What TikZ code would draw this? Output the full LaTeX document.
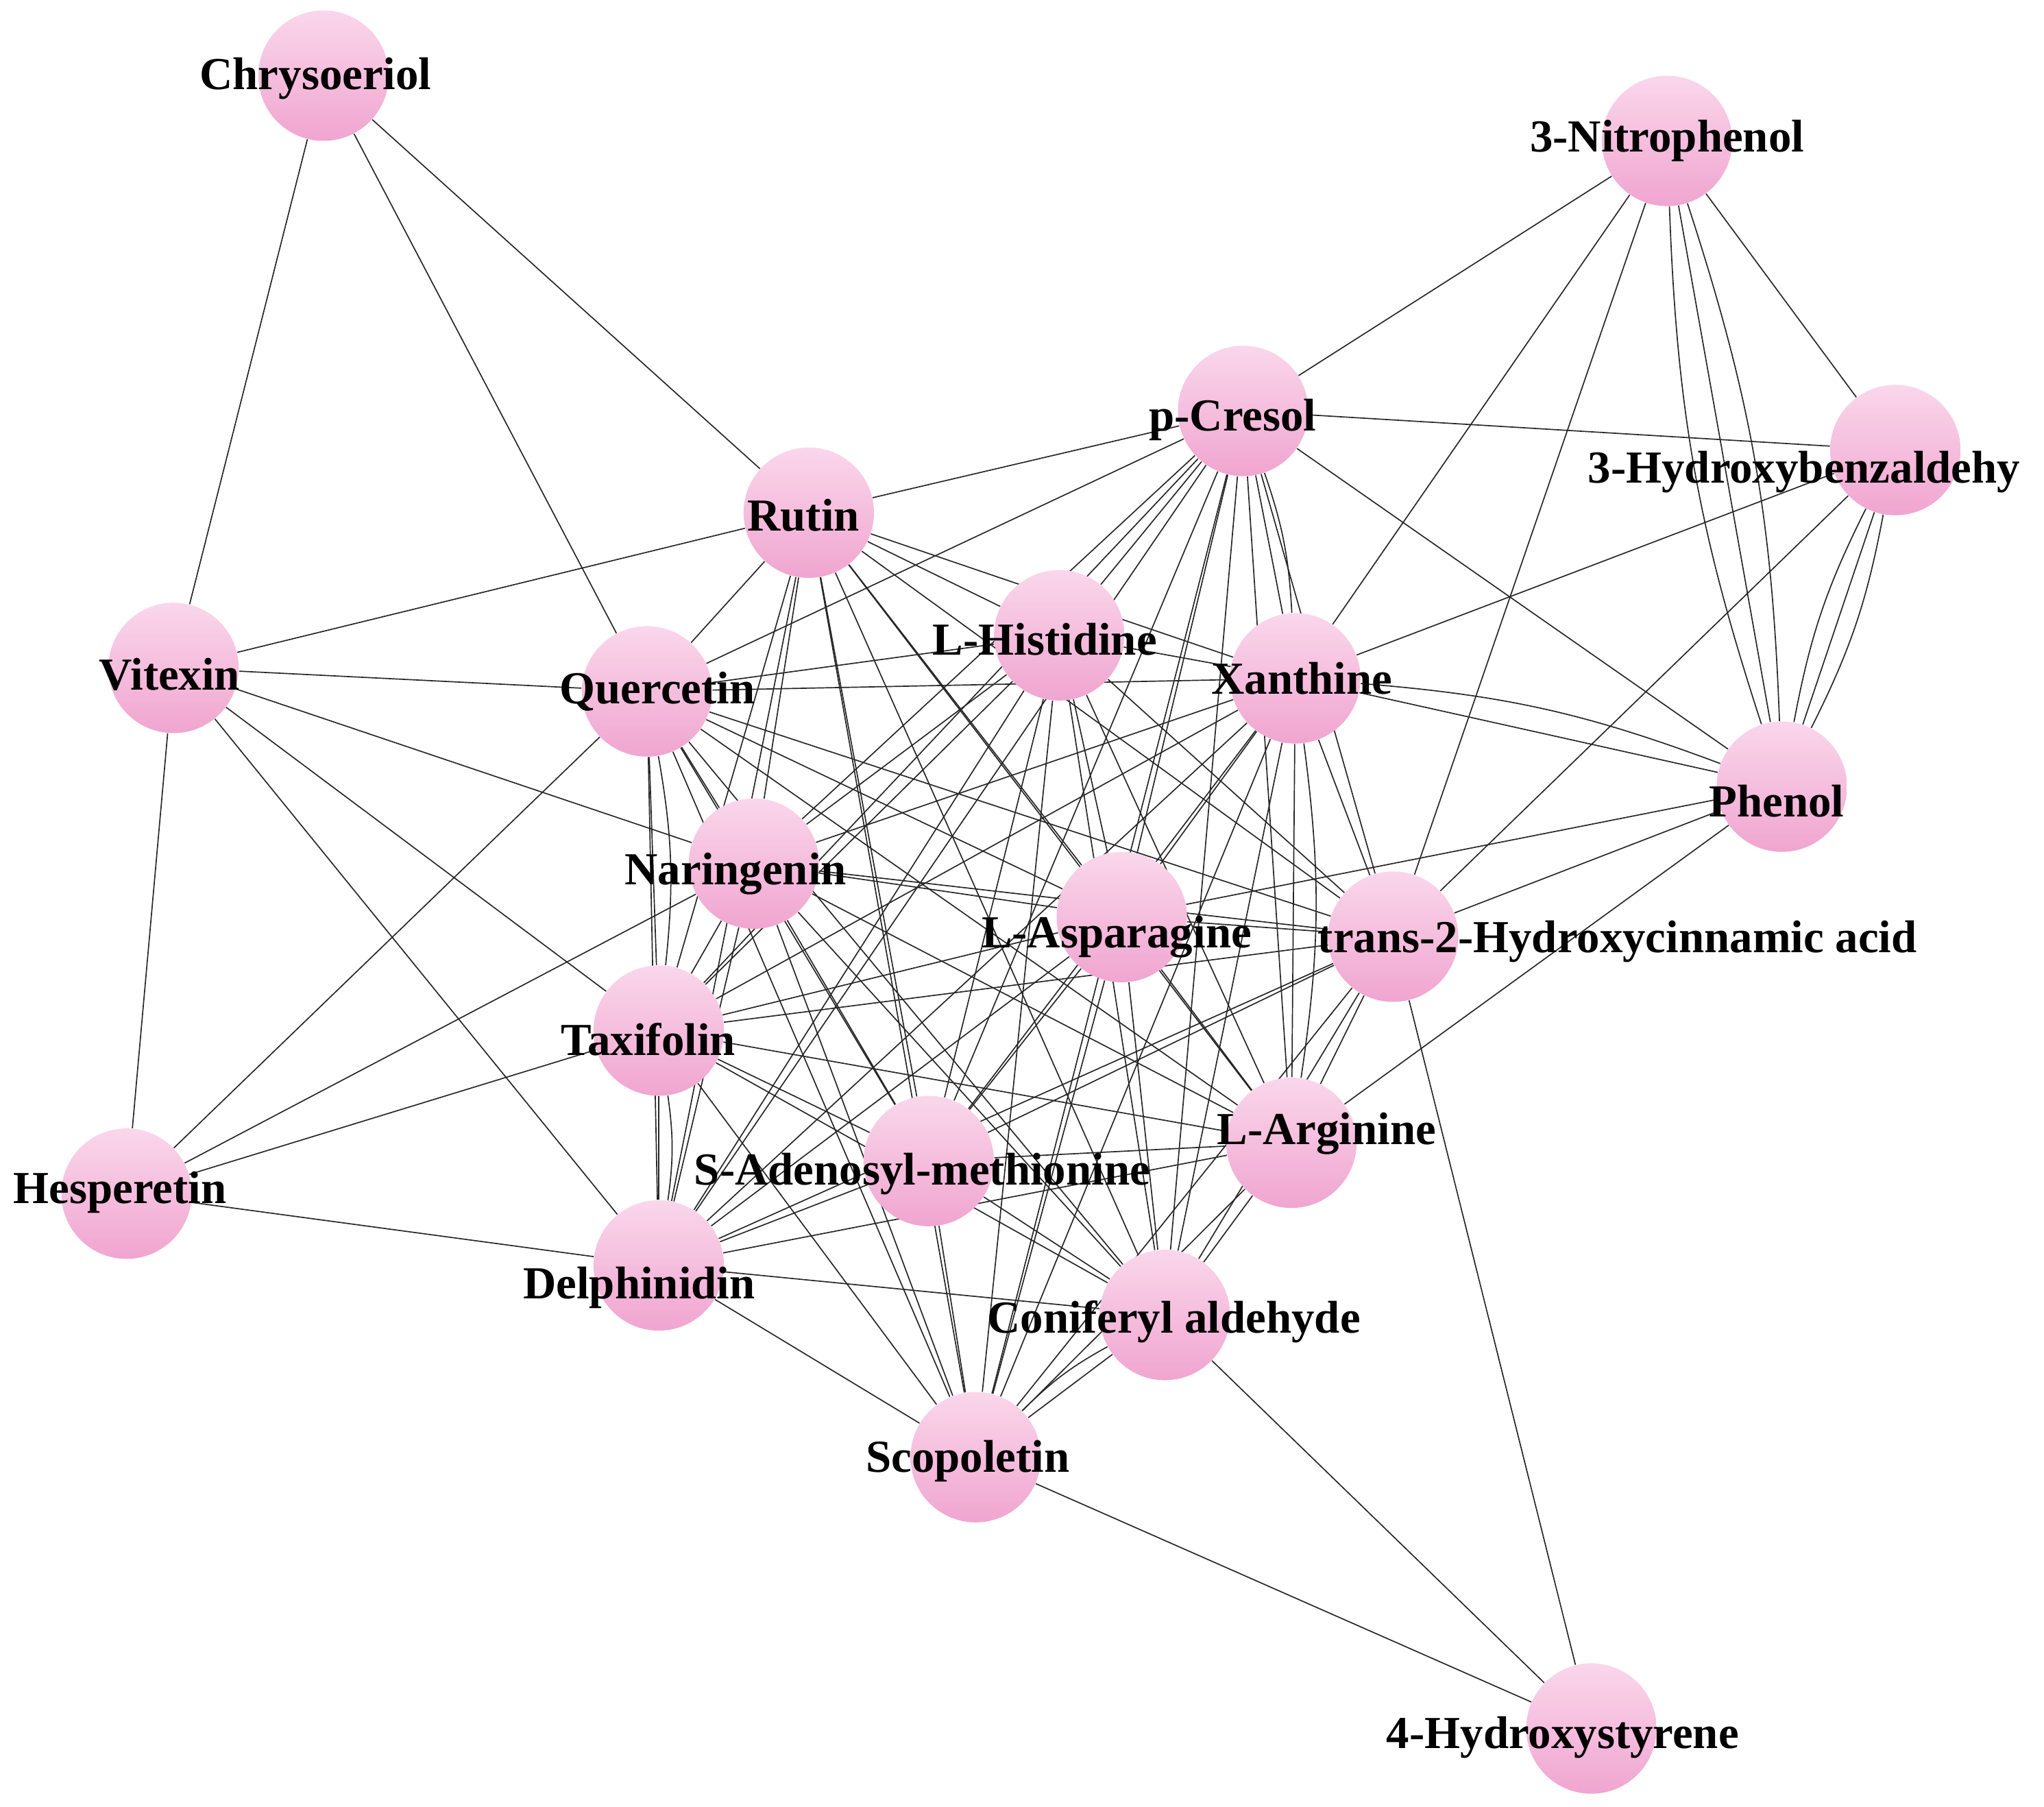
\documentclass[tikz,border=0pt]{standalone}
\usepackage{fontspec}
\setmainfont{Liberation Serif}
\usetikzlibrary{backgrounds}
\begin{document}
\begin{tikzpicture}[x=0.02cm,y=-0.02cm,
  mol/.style={circle,minimum size=2cm,inner sep=0pt,top color={rgb,255:red,250;green,215;blue,235},bottom color={rgb,255:red,240;green,165;blue,208},draw=none},
  lab/.style={font=\fontsize{20}{24}\selectfont\bfseries,text=black},
  edge/.style={draw=black!85,line width=0.5pt}]
\useasboundingbox (0,0) rectangle (1567,1385);
\node[mol] (chr) at (248,58) {};
\node[mol] (nit) at (1278,108) {};
\node[mol] (pcr) at (953,315) {};
\node[mol] (hyb) at (1453,345) {};
\node[mol] (rut) at (620,393) {};
\node[mol] (vit) at (133,512) {};
\node[mol] (que) at (496,530) {};
\node[mol] (his) at (812,487) {};
\node[mol] (xan) at (993,520) {};
\node[mol] (phe) at (1366,603) {};
\node[mol] (nar) at (578,662) {};
\node[mol] (asp) at (860,703) {};
\node[mol] (tra) at (1068,718) {};
\node[mol] (tax) at (505,790) {};
\node[mol] (arg) at (990,876) {};
\node[mol] (hes) at (97,915) {};
\node[mol] (sam) at (712,890) {};
\node[mol] (del) at (505,970) {};
\node[mol] (con) at (893,1008) {};
\node[mol] (sco) at (748,1117) {};
\node[mol] (hst) at (1220,1325) {};
\begin{scope}[on background layer]
\foreach \a [count=\i] in {rut,que,his,xan,nar,asp,tra,tax,arg,sam,del,con,sco,pcr}{
  \foreach \b [count=\j] in {rut,que,his,xan,nar,asp,tra,tax,arg,sam,del,con,sco,pcr}{
    \ifnum\j>\i \draw[edge] (\a)--(\b);\fi}}
\foreach \a/\b in {chr/vit,chr/que,chr/rut,nit/pcr,nit/hyb,nit/phe,nit/xan,nit/tra,
  pcr/hyb,pcr/phe,hyb/phe,hyb/xan,hyb/tra,rut/vit,vit/que,vit/hes,vit/tax,vit/del,vit/nar,
  que/hes,xan/phe,phe/tra,phe/asp,phe/arg,tra/hst,sco/hst,con/hst,hes/tax,hes/del,hes/nar}
  \draw[edge] (\a)--(\b);
\foreach \a/\b in {nit/phe,hyb/phe,xan/phe,que/tax,xan/arg,tax/del,sco/con,pcr/xan}{
  \draw[edge] (\a) to[bend left=8] (\b);}
\draw[edge] (nit) to[bend right=8] (phe);
\draw[edge] (hyb) to[bend right=8] (phe);
\end{scope}
\node[lab] at (242,60) {Chrysoeriol};
\node[lab] at (1278,108) {3-Nitrophenol};
\node[lab] at (945,322) {p-Cresol};
\node[lab] at (1383,362) {3-Hydroxybenzaldehy};
\node[lab] at (616,395) {Rutin};
\node[lab] at (130,517) {Vitexin};
\node[lab] at (504,530) {Quercetin};
\node[lab] at (801,490) {L-Histidine};
\node[lab] at (998,520) {Xanthine};
\node[lab] at (1362,614) {Phenol};
\node[lab] at (564,670) {Naringenin};
\node[lab] at (856,718) {L-Asparagine};
\node[lab] at (1240,722) {trans-2-Hydroxycinnamic acid};
\node[lab] at (497,797) {Taxifolin};
\node[lab] at (1017,869) {L-Arginine};
\node[lab] at (92,914) {Hesperetin};
\node[lab] at (707,900) {S-Adenosyl-methionine};
\node[lab] at (490,987) {Delphinidin};
\node[lab] at (900,1013) {Coniferyl aldehyde};
\node[lab] at (742,1120) {Scopoletin};
\node[lab] at (1198,1332) {4-Hydroxystyrene};
\end{tikzpicture}
\end{document}
